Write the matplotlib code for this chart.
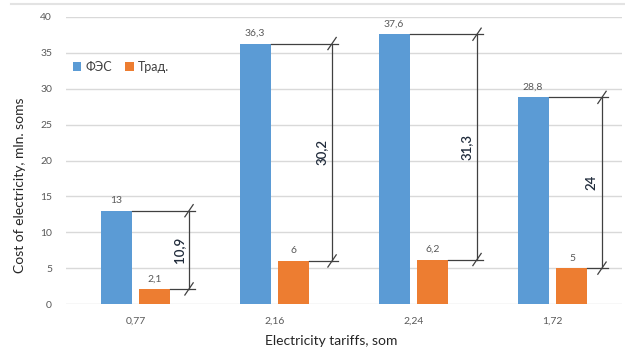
import numpy as np
import matplotlib.pyplot as plt
from matplotlib.lines import Line2D

plt.rcParams['font.family'] = ['Lato', 'DejaVu Sans']

tariffs = ['0,77', '2,16', '2,24', '1,72']
fes = [13, 36.3, 37.6, 28.8]
trad = [2.1, 6, 6.2, 5]
fes_labels = ['13', '36,3', '37,6', '28,8']
trad_labels = ['2,1', '6', '6,2', '5']
diff_labels = ['10,9', '30,2', '31,3', '24']

blue = '#5B9BD5'
orange = '#ED7D31'
grid = '#d9d9d9'
tick_col = '#595959'

fig = plt.figure(figsize=(6.25, 3.51), dpi=100)
ax = fig.add_axes([66 / 625, 1 - 304 / 351, 556 / 625, 287 / 351])

x = np.arange(len(tariffs))
w = 0.223
off = 0.14
ax.bar(x - off, fes, w, color=blue, label='ФЭС', zorder=3)
ax.bar(x + off, trad, w, color=orange, label='Трад.', zorder=3)

# value labels
for i in range(len(tariffs)):
    ax.annotate(fes_labels[i], (x[i] - off, fes[i]), xytext=(0, 4), textcoords='offset points',
                ha='center', va='bottom', fontsize=7.5, color=tick_col)
    ax.annotate(trad_labels[i], (x[i] + off, trad[i]), xytext=(0, 4), textcoords='offset points',
                ha='center', va='bottom', fontsize=7.5, color=tick_col)

# dimension lines between the two bars
dim_pos = [0.385, 0.414, 0.457, 0.356]
line_col = '#404040'
for i in range(len(tariffs)):
    xv = x[i] + dim_pos[i]
    ax.plot([x[i] - off + w / 2, xv + 0.04], [fes[i], fes[i]], color=line_col, lw=0.9, zorder=4)
    ax.plot([x[i] + off + w / 2, xv + 0.04], [trad[i], trad[i]], color=line_col, lw=0.9, zorder=4)
    ax.plot([xv, xv], [trad[i], fes[i]], color=line_col, lw=0.9, zorder=4)
    for yv in (fes[i], trad[i]):
        ax.plot([xv - 0.03, xv + 0.03], [yv - 0.85, yv + 0.85], color=line_col, lw=0.9, zorder=4)
    ax.annotate(diff_labels[i], (xv, (fes[i] + trad[i]) / 2), xytext=(-3, 0), textcoords='offset points',
                rotation=90, ha='right', va='center', fontsize=9.5, color='#1f2a3a', fontweight='semibold')

ax.set_xlim(-0.5, 3.5)
ax.set_ylim(0, 40)
ax.set_yticks(range(0, 41, 5))
ax.set_xticks(x)
ax.set_xticklabels(tariffs)
ax.tick_params(length=0, labelsize=7.5, colors=tick_col)
ax.tick_params(axis='y', pad=10)
ax.tick_params(axis='x', pad=9)
ax.grid(axis='y', color=grid, lw=1, zorder=0)
for s in ax.spines.values():
    s.set_visible(False)

ax.legend(loc='center left', bbox_to_anchor=(0.012, 0.826), ncol=2, frameon=False, fontsize=9,
          handlelength=0.7, handleheight=0.7, handletextpad=0.35, columnspacing=1.0,
          borderpad=0, borderaxespad=0, labelcolor='#404040')

fig.text(331 / 625, 1 - 341 / 351, 'Electricity tariffs, som', ha='center', va='center',
         fontsize=10, color='#262626')
fig.text(20 / 625, 1 - 185 / 351, 'Cost of electricity, mln. soms', ha='center', va='center',
         rotation=90, fontsize=10, color='#262626')

fig.add_artist(Line2D([11 / 625, 1], [1 - 4 / 351, 1 - 4 / 351], color='#e3e3e3', lw=1.5))

fig.savefig('out.png', dpi=100)
